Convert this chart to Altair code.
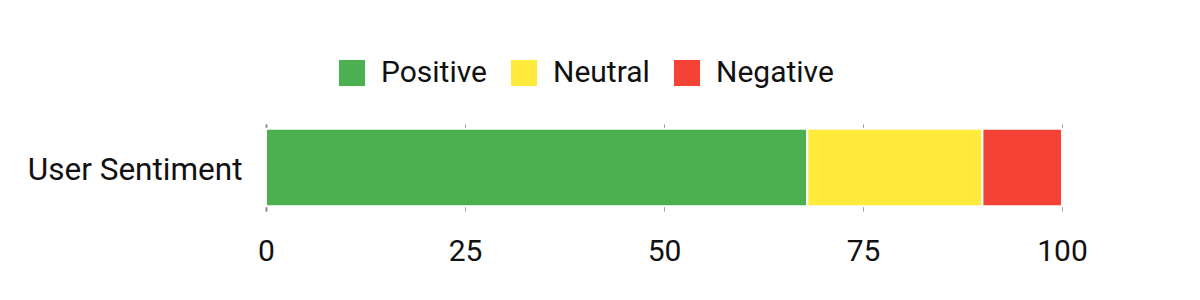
import altair as alt
import pandas as pd

categories = ["User Sentiment"]
sentiments = ["Positive", "Neutral", "Negative"]
values = [68, 22, 10]
colors = ["#4CAF50", "#FFEB3B", "#F44336"]
x_ticks = [0, 25, 50, 75, 100]

df = pd.DataFrame({
    "category": categories * len(sentiments),
    "sentiment": sentiments,
    "value": values,
    "order": list(range(len(sentiments))),
})

FS = 30

chart = alt.Chart(df).mark_bar(stroke="white", strokeWidth=2).encode(
    y=alt.Y("category:N", title=None,
            scale=alt.Scale(paddingInner=0, paddingOuter=0.06),
            axis=alt.Axis(ticks=False, domain=True, domainColor="#888888", domainWidth=2,
                          labelFontSize=31.5, labelPadding=24, labelColor="#111111",
                          labelFont="Roboto", labelOffset=3, labelLimit=0)),
    x=alt.X("value:Q", title=None, stack="zero",
            scale=alt.Scale(domain=[0, 100], nice=False),
            axis=alt.Axis(values=x_ticks, ticks=False, domain=False, grid=True,
                          gridColor="#999999", gridWidth=1,
                          labelFontSize=FS, labelPadding=25, labelColor="#111111",
                          labelFont="Roboto", labelFlush=False)),
    color=alt.Color("sentiment:N",
                    scale=alt.Scale(domain=sentiments, range=colors),
                    legend=alt.Legend(title=None, orient="none", direction="horizontal",
                                      legendX=71, legendY=-66, padding=0,
                                      symbolType="square", symbolSize=680,
                                      symbolStrokeWidth=0, labelFontSize=FS,
                                      labelFont="Roboto", labelColor="#111111",
                                      labelOffset=14, columnPadding=22,
                                      symbolOpacity=1)),
    order=alt.Order("order:Q"),
).properties(
    width=796,
    height=87,
    background="white",
    autosize=alt.AutoSizeParams(type="none"),
    padding={"left": 266, "top": 124, "right": 138, "bottom": 89},
).configure_view(stroke="transparent", strokeWidth=0)

chart.save("out.html", embed_options={"renderer": "svg", "actions": False})
